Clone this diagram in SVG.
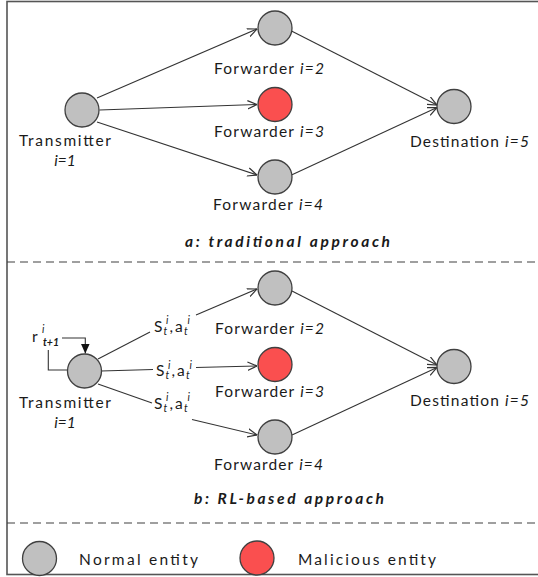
<svg xmlns="http://www.w3.org/2000/svg" width="538" height="577" viewBox="0 0 538 577">
<defs>
<marker id="open" viewBox="0 0 10 10" refX="9.5" refY="5" markerWidth="10" markerHeight="10" markerUnits="userSpaceOnUse" orient="auto">
<path d="M0,0.8 L9.5,5 L0,9.2" fill="none" stroke="#333" stroke-width="1.2"/>
</marker>
<marker id="solid" viewBox="0 0 10 10" refX="10" refY="5" markerWidth="10" markerHeight="10" markerUnits="userSpaceOnUse" orient="auto">
<path d="M0,0.5 L10,5 L0,9.5 Z" fill="#111"/>
</marker>
</defs>
<style>
.normal{fill:#c0c0c0;stroke:#404040;stroke-width:1.3}
.mal{fill:#fa4f4f;stroke:#404040;stroke-width:1.3}
.edge{fill:none;stroke:#333;stroke-width:1.1}
.arr{marker-end:url(#open)}
text{font-family:Lato,"Noto Sans","Liberation Sans",sans-serif;font-size:15.5px;fill:#1a1a1a}
.it{font-style:italic}
.title{font-weight:bold;font-style:italic}
.sub{font-size:10.5px;font-style:italic}
.dash{stroke:#404040;stroke-width:1.2;stroke-dasharray:8,5;fill:none}
</style>
<rect x="7" y="1.5" width="540" height="573" fill="#fff" stroke="#555" stroke-width="1.6"/>
<line class="dash" x1="7" y1="262" x2="538" y2="262"/>
<line class="dash" x1="7" y1="523" x2="538" y2="523"/>

<g id="connectors">
<path class="edge arr" d="M97,98 L257,29"/>
<path class="edge arr" d="M99.5,110 L257,104.5"/>
<path class="edge arr" d="M97,122 L257,175"/>
<path class="edge arr" d="M291.5,31 L437,105"/>
<path class="edge arr" d="M291.5,175 L437,107.5"/>

<path class="edge" d="M98,359 L150,332"/>
<path class="edge arr" d="M196,315 L257,289"/>
<path class="edge" d="M101,371 L153,369.5"/>
<path class="edge arr" d="M196,367.5 L257,366"/>
<path class="edge" d="M98,384 L152,403"/>
<path class="edge arr" d="M192,419.5 L257,435"/>
<path class="edge arr" d="M292,291 L437,365"/>
<path class="edge arr" d="M292,435 L437,367.5"/>
<path class="edge" d="M67.5,370 L48.3,370 L48.3,350"/>
<path class="edge" d="M62,338 L85.3,338 L85.3,353.5" marker-end="url(#solid)"/>
</g>

<g id="a-transmitter">
<circle class="normal" cx="82" cy="110" r="17"/>
<text x="65" y="146" text-anchor="middle" textLength="92">Transmitter</text>
<text x="65" y="166" text-anchor="middle" class="it">i=1</text>
</g>
<g id="a-forwarder2">
<circle class="normal" cx="275" cy="28" r="17"/>
<text x="214" y="73.5" textLength="110">Forwarder <tspan class="it">i=2</tspan></text>
</g>
<g id="a-forwarder3">
<circle class="mal" cx="275" cy="104.5" r="17"/>
<text x="214" y="137" textLength="110">Forwarder <tspan class="it">i=3</tspan></text>
</g>
<g id="a-forwarder4">
<circle class="normal" cx="275" cy="177" r="17"/>
<text x="213" y="209.5" textLength="110">Forwarder <tspan class="it">i=4</tspan></text>
</g>
<g id="a-destination">
<circle class="normal" cx="454" cy="106.5" r="17"/>
<text x="410" y="147" textLength="119">Destination <tspan class="it">i=5</tspan></text>
</g>
<text class="title" x="185" y="247" textLength="205">a: traditional approach</text>

<g id="b-transmitter">
<circle class="normal" cx="84.5" cy="371" r="17"/>
<text x="65" y="408" text-anchor="middle" textLength="92">Transmitter</text>
<text x="65" y="428" text-anchor="middle" class="it">i=1</text>
<text x="32" y="342">r<tspan class="sub" x="42" y="333">i</tspan><tspan class="sub" font-weight="bold" x="43" y="345.5">t+1</tspan></text>
</g>
<g id="labels">
<text x="154" y="331.5">S<tspan class="sub" x="163.5" y="334.5">t</tspan><tspan class="sub" x="166" y="324">i</tspan><tspan x="169.5" y="331.5">,</tspan><tspan x="175" y="331.5">a</tspan><tspan class="sub" x="184" y="334.5">t</tspan><tspan class="sub" x="187.5" y="324">i</tspan></text>
<text x="156" y="376">S<tspan class="sub" x="165.5" y="379">t</tspan><tspan class="sub" x="168" y="368.5">i</tspan><tspan x="171.5" y="376">,</tspan><tspan x="177" y="376">a</tspan><tspan class="sub" x="186" y="379">t</tspan><tspan class="sub" x="189.5" y="368.5">i</tspan></text>
<text x="154" y="408.5">S<tspan class="sub" x="163.5" y="411.5">t</tspan><tspan class="sub" x="166" y="401">i</tspan><tspan x="169.5" y="408.5">,</tspan><tspan x="175" y="408.5">a</tspan><tspan class="sub" x="184" y="411.5">t</tspan><tspan class="sub" x="187.5" y="401">i</tspan></text>
</g>
<g id="b-forwarder2">
<circle class="normal" cx="275" cy="288" r="17"/>
<text x="215" y="333.5" textLength="109">Forwarder <tspan class="it">i=2</tspan></text>
</g>
<g id="b-forwarder3">
<circle class="mal" cx="275" cy="364.5" r="17"/>
<text x="215" y="397" textLength="109">Forwarder <tspan class="it">i=3</tspan></text>
</g>
<g id="b-forwarder4">
<circle class="normal" cx="275" cy="437" r="17"/>
<text x="214" y="469.5" textLength="109">Forwarder <tspan class="it">i=4</tspan></text>
</g>
<g id="b-destination">
<circle class="normal" cx="454" cy="366.5" r="17"/>
<text x="410" y="406" textLength="119">Destination <tspan class="it">i=5</tspan></text>
</g>
<text class="title" x="194" y="504" textLength="190">b: RL-based approach</text>

<g id="legend-normal">
<circle class="normal" cx="39.5" cy="558.5" r="17"/>
<text x="79" y="565" textLength="119">Normal entity</text>
</g>
<g id="legend-malicious">
<circle class="mal" cx="257" cy="558" r="17"/>
<text x="298" y="565" textLength="138">Malicious entity</text>
</g>
</svg>
